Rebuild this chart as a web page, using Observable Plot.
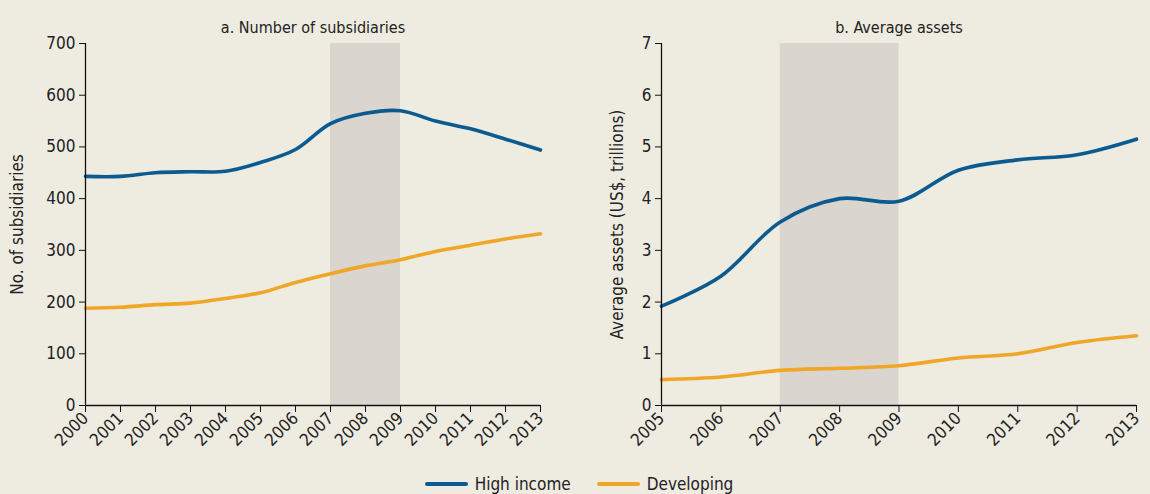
<!DOCTYPE html>
<html>
<head>
<meta charset="utf-8">
<script src="https://cdn.jsdelivr.net/npm/d3@7"></script>
<script src="https://cdn.jsdelivr.net/npm/@observablehq/plot@0.6"></script>
<style>
  html, body { margin: 0; padding: 0; background: #EEEBE1; }
  body { width: 1150px; height: 494px; overflow: hidden; font-family: "DejaVu Sans Condensed", "DejaVu Sans", sans-serif; font-stretch: condensed; color: #222; }
  #row { display: flex; }
  #legend { display: flex; justify-content: center; gap: 26px; font-size: 17px; margin-top: 14px; padding-left: 8px; }
  .item { display: flex; align-items: center; gap: 7px; }
  .sw { width: 43px; height: 4px; border-radius: 2px; }
</style>
</head>
<body>
<div id="row"></div>
<div id="legend"></div>
<script>
const yearsA = [2000,2001,2002,2003,2004,2005,2006,2007,2008,2009,2010,2011,2012,2013];
const highA  = [443,443,450,452,453,470,495,545,565,570,550,535,515,494];
const devA   = [188,190,195,198,207,218,238,255,270,282,298,310,322,332];
const yearsB = [2005,2006,2007,2008,2009,2010,2011,2012,2013];
const highB  = [1.92,2.5,3.55,4.0,3.95,4.55,4.75,4.85,5.15];
const devB   = [0.5,0.55,0.68,0.72,0.77,0.92,1.0,1.22,1.35];
const crisis = [2007, 2009];
const seriesNames = ["High income", "Developing"];
const colors = ["#0B5B91", "#F0A626"];
const titles = ["a. Number of subsidiaries", "b. Average assets"];
const yLabels = ["No. of subsidiaries", "Average assets (US$, trillions)"];

function makeData(years, high, dev) {
  return years.flatMap((yr, i) => [
    {year: yr, value: high[i], series: seriesNames[0]},
    {year: yr, value: dev[i], series: seriesNames[1]}
  ]);
}

function panel({years, high, dev, yMax, yTicks, title, yLabel, width, marginLeft, marginRight, labelOffset}) {
  const data = makeData(years, high, dev);
  return Plot.plot({
    width, height: 460,
    marginTop: 43, marginBottom: 55, marginLeft, marginRight,
    style: {background: "transparent", fontFamily: "'DejaVu Sans Condensed', 'DejaVu Sans', sans-serif", fontSize: "17px", color: "#222"},
    x: {domain: [years[0], years[years.length-1]], label: null},
    y: {domain: [0, yMax], label: null},
    color: {domain: seriesNames, range: colors},
    marks: [
      Plot.rect([crisis], {x1: d => d[0], x2: d => d[1], y1: 0, y2: yMax, fill: "#DAD6CF"}),
      Plot.line(data, {x: "year", y: "value", stroke: "series", strokeWidth: 3.6, curve: "catmull-rom"}),
      Plot.ruleX([years[0]], {stroke: "#111", strokeWidth: 1.3}),
      Plot.ruleY([0], {stroke: "#111", strokeWidth: 1.3}),
      Plot.axisX({ticks: years, tickFormat: "d", tickRotate: -45, tickSize: 7, tickPadding: 3, stroke: "#111", label: null}),
      Plot.axisY({ticks: yTicks, tickFormat: "d", tickSize: 6, tickPadding: 4, stroke: "#111", label: yLabel, labelAnchor: "center", labelArrow: "none", labelOffset}),
      Plot.text([title], {frameAnchor: "top", dy: -22, fontSize: 16, fill: "#222"})
    ]
  });
}

const row = document.getElementById("row");
row.appendChild(panel({years: yearsA, high: highA, dev: devA, yMax: 700, yTicks: d3.range(0, 701, 100),
  title: titles[0], yLabel: yLabels[0], width: 575, marginLeft: 85, marginRight: 35, labelOffset: 75}));
row.appendChild(panel({years: yearsB, high: highB, dev: devB, yMax: 7, yTicks: d3.range(0, 8, 1),
  title: titles[1], yLabel: yLabels[1], width: 575, marginLeft: 86, marginRight: 14, labelOffset: 51}));

const legend = document.getElementById("legend");
seriesNames.forEach((n, i) => {
  const it = document.createElement("div"); it.className = "item";
  const sw = document.createElement("div"); sw.className = "sw"; sw.style.background = colors[i];
  const tx = document.createElement("span"); tx.textContent = n;
  it.appendChild(sw); it.appendChild(tx); legend.appendChild(it);
});
</script>
</body>
</html>
